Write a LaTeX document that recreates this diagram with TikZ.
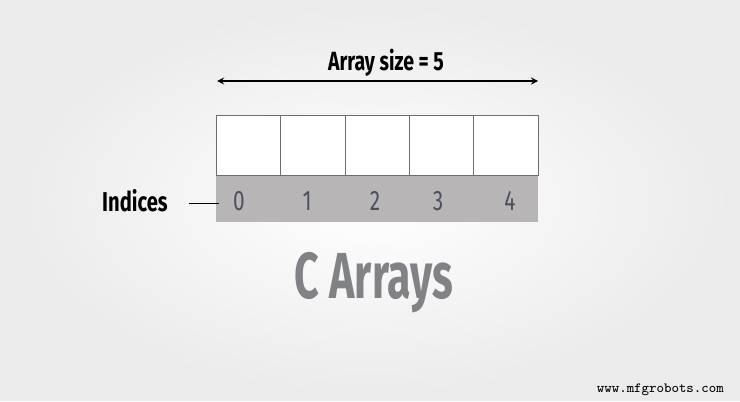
\documentclass[tikz,border=0pt]{standalone}
\usepackage{fontspec}
\setmainfont{Fira Sans}[FakeStretch=0.74]
\newfontfamily\titlefont{Fira Sans}[FakeStretch=0.66]
\definecolor{linegray}{HTML}{6D6E71}
\definecolor{bandgray}{HTML}{B8B5B6}
\definecolor{digitgray}{HTML}{4D4F5C}
\definecolor{titlegray}{HTML}{818285}
\tikzset{
  cell/.style={draw=linegray, fill=white, minimum width=1.288cm, minimum height=1.2cm, inner sep=0pt},
  digit/.style={text=digitgray, font=\fontsize{16}{16}\selectfont},
}
\begin{document}
\begin{tikzpicture}[x=0.02cm, y=-0.02cm]
  \shade[inner color=white, outer color=black!8] (0, 0) rectangle (740, 400);
  \node[fill=bandgray, minimum width=6.44cm, minimum height=0.94cm, inner sep=0pt] (band) at (377, 198.5) {};
  \foreach \i in {0,...,4}
    \node[cell] (c\i) at (248.4 + 64.4*\i, 145) {};
  \foreach \d/\x in {0/239, 1/307, 2/375, 3/438, 4/510}
    \node[digit] (d\d) at (\x, 201) {\d};
  \coordinate (left) at (217, 81);
  \coordinate (right) at (538, 81);
  \draw[<->, >=stealth, thick] (left) -- (right);
  \node[font=\fontsize{15}{15}\bfseries\selectfont] (size) at (386, 63) {Array size = 5};
  \node[font=\fontsize{15.5}{16}\bfseries\selectfont, anchor=east, inner sep=0pt] (idx) at (168, 201) {Indices};
  \coordinate (idxend) at (219, 203);
  \draw (189, 203) -- (idxend);
  \node[text=titlegray, font=\titlefont\fontsize{37}{37}\bfseries\selectfont] (title) at (374, 283) {C Arrays};
  \node[font=\ttfamily\fontsize{8}{8}\selectfont, anchor=east] (web) at (730, 390) {www.mfgrobots.com};
\end{tikzpicture}
\end{document}
